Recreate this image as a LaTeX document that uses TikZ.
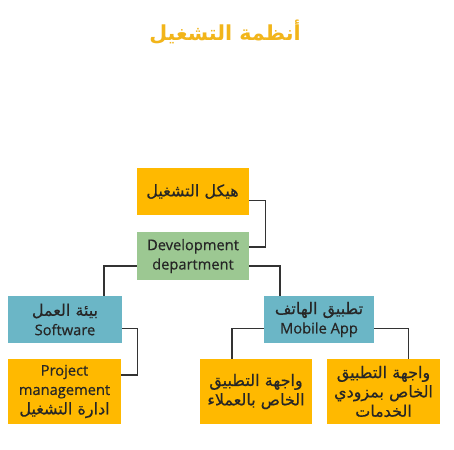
\documentclass[tikz,border=0pt]{standalone}
\usepackage{fontspec}
\setmainfont{Open Sans}
\newfontfamily\boxfont{Open Sans}[FakeBold=0.6]
\newfontfamily\arabicfont[Script=Arabic, FakeBold=0.5]{DejaVu Sans}
\newfontfamily\titlefont[Script=Arabic]{DejaVu Sans}
\TeXXeTstate=1
\definecolor{osorange}{HTML}{FFB900}
\definecolor{osgreen}{HTML}{9CC892}
\definecolor{osblue}{HTML}{6BB6C6}
\definecolor{ostitle}{HTML}{F2B51A}
\definecolor{osline}{HTML}{333333}
\usetikzlibrary{positioning, calc}
\newcommand{\ar}[1]{{\arabicfont\fontsize{12}{14.5}\selectfont\beginR #1\endR}}

\begin{document}
\begin{tikzpicture}[x=0.75pt, y=-0.75pt,
    box/.style={rectangle, inner sep=0pt, align=center, text=black!85,
      font=\boxfont\fontsize{11}{14.5}\selectfont, minimum width=84pt, minimum height=35.25pt},
    tallbox/.style={box, minimum height=48.75pt},
    link/.style={draw=osline, line width=0.8pt}]
    \useasboundingbox[fill=white] (0,0) rectangle (454,450);
    % Title
    \node[font=\titlefont\fontsize{15.5}{18}\bfseries, text=ostitle] (title) at (225,32)
      {\beginR أنظمة التشغيل\endR};
    % Top of the tree
    \node[box, fill=osorange] (frame) at (192.5,191.5) {\ar{هيكل التشغيل}};
    \node[box, fill=osgreen, minimum height=36pt] (dev) at (193,256)
      {Development\\department};
    % Second level
    \node[box, fill=osblue, minimum width=85.5pt] (soft) at (65,319.5)
      {\ar{بيئة العمل}\\Software};
    \node[box, fill=osblue, minimum width=82.5pt] (mobile) at (319,319.5)
      {\ar{تطبيق الهاتف}\\Mobile App};
    % Leaves
    \node[tallbox, fill=osorange, minimum width=84.75pt] (project) at (64.5,391.5)
      {Project\\management\\\ar{ادارة التشغيل}};
    \node[tallbox, fill=osorange] (client) at (256,391.5)
      {\ar{واجهة التطبيق}\\\ar{الخاص بالعملاء}};
    \node[tallbox, fill=osorange, minimum width=84.75pt] (provider) at (383.5,391.5)
      {\ar{واجهة التطبيق}\\\ar{الخاص بمزودي}\\\ar{الخدمات}};
    % Connectors
    \draw[link] ([yshift=-6.4pt]frame.east) -- ++(12.4pt,0) |- ([yshift=6.75pt]dev.east);
    \draw[link] ([yshift=-7.5pt]dev.west) -| ([xshift=29.25pt]soft.north);
    \draw[link] ([yshift=-7.5pt]dev.east) -| ([xshift=-29.25pt]mobile.north);
    \draw[link] ([yshift=-6.4pt]soft.east) -- ++(11.25pt,0) |- ([yshift=12.4pt]project.east);
    \draw[link] ([yshift=-6.4pt]mobile.west) -| ([xshift=-18pt]client.north);
    \draw[link] ([yshift=-6.4pt]mobile.east) -| ([xshift=18.4pt]provider.north);
\end{tikzpicture}
\end{document}
